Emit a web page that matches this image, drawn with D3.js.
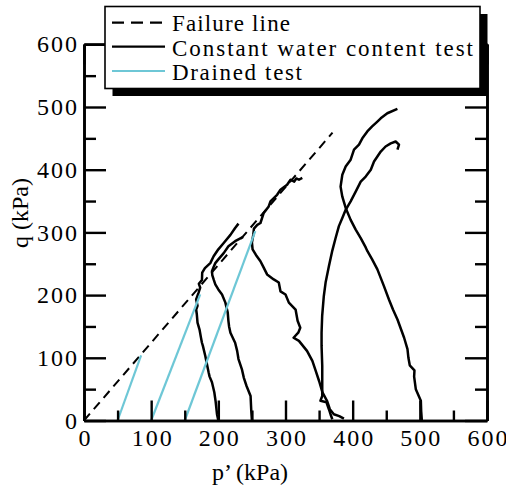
<!DOCTYPE html>
<html>
<head>
<meta charset="utf-8">
<script src="https://cdn.jsdelivr.net/npm/d3@7"></script>
<style>
  html, body { margin: 0; padding: 0; background: #fff; }
  svg { display: block; }
  text { font-family: "Liberation Serif"; fill: #000; }
</style>
</head>
<body>
<svg id="chart" width="506" height="491"></svg>
<script>
// ---------- data ----------
const majorTicks = [0, 100, 200, 300, 400, 500, 600];
const minorTicks = [50, 150, 250, 350, 450, 550];
const xTitle = "p\u2019 (kPa)";
const yTitle = "q (kPa)";
const legendLabels = ["Failure line", "Constant water content test", "Drained test"];

// failure line (p', q)
const failureLine = [[0, 0], [370, 459]];

// drained tests (p', q)
const drained1 = [[50, 0], [85, 104]];
const drained2 = [[100, 0], [173, 201]];
const drained3 = [[150, 0], [255, 302]];

// constant water content tests (p', q)
const cwc200 = [[200,0],[198,10],[196,30],[194,45],[190.5,61],[187,70],[185.5,77],[183,90],[180.6,103],[177,119],[175.6,124],[174,133],[172,145],[169,156],[168,169],[167,177],[169,183],[167,193],[170.6,204],[173,212],[171,218],[175.6,224],[176,236],[180,243],[188,251],[193,262],[200,273],[208,283],[218,296],[225,307],[230,314]];
const cwc250 = [[250,0],[249,16],[248,39],[242,55],[238,68],[235,82],[230,98],[228,111],[225,124],[218,140],[216,150],[215,159],[214,172],[210.5,188],[205.5,201],[200,209],[195.5,217],[193,225],[191,232],[190.5,238],[193,245],[195.5,251],[200,257],[208,267],[215,278],[225,286],[237,293]];
const cwc385 = [[387,3],[380,7],[372,10],[366,18],[362,31],[355,45],[350,63],[345,79],[340,95],[332,111],[320,127],[312,132],[319,140],[322,148],[318,159],[315,177],[305,188],[300,201],[292.5,206],[290,220],[282.5,225],[272.6,233],[267,245],[262.7,254],[256,264],[251,273],[250,284],[252,296],[253,306],[258,312],[262.7,315],[267.6,331],[275,341.5],[277.6,349.5],[287.5,360],[292.5,368],[302.4,376],[307.5,384],[313,381],[316,386],[320,384],[325,387]];
const cwc370 = [[369.7,2],[367,10],[364.6,18],[361,29],[352,31.5],[354.7,39],[354.7,61],[354.7,87],[353.7,119],[353.7,140],[354.6,167],[357,198],[359.7,220],[364.6,246],[369.7,271],[374.6,291],[379.5,310],[384.6,323],[389.6,336],[397,349.5],[404.5,365],[412,381],[419.4,389],[427,400],[431.8,413],[436.8,421],[441.8,429],[449,437],[456.7,442],[464,445],[469,440],[466.7,432]];
const cwc500 = [[503,0],[502,15],[501.5,31.5],[494,50],[491.5,70],[492,80],[485,88],[483,100],[481.6,114],[476.6,132],[466.7,161],[460,177],[454,193],[446.7,214],[436.8,241],[429,257],[422,270],[419.4,276],[412,291],[404.5,304.5],[397,320],[389.6,339],[384.6,357],[382,373],[384.6,392],[389.6,405],[397,416],[402,432],[409.4,440],[414.4,450],[421.8,461],[429,469],[436,476],[441.8,482],[451.6,490],[466.6,497]];

const cwcTests = [cwc200, cwc250, cwc385, cwc370, cwc500];
const drainedTests = [drained1, drained2, drained3];

// ---------- drawing ----------
const cyan = "#6ec7d6";
const FONT = '"Liberation Serif"';
const svg = d3.select("#chart");
const x = d3.scaleLinear().domain([0, 600]).range([84, 487]);
const y = d3.scaleLinear().domain([0, 600]).range([420.5, 44.3]);
const line = d3.line().x(d => x(d[0])).y(d => y(d[1]));

// plot lines
svg.append("path").datum(failureLine).attr("d", line)
  .attr("fill", "none").attr("stroke", "#000").attr("stroke-width", 2)
  .attr("stroke-dasharray", "9,6");

svg.append("g").selectAll("path").data(cwcTests).join("path")
  .attr("d", line).attr("fill", "none").attr("stroke", "#000")
  .attr("stroke-width", 2.5).attr("stroke-linejoin", "round");

svg.append("g").selectAll("path").data(drainedTests).join("path")
  .attr("d", line).attr("fill", "none").attr("stroke", cyan)
  .attr("stroke-width", 2.2);

// axes
function styleAxis(g, labels) {
  g.attr("font-family", null);
  g.select(".domain").attr("stroke", "#000").attr("stroke-width", 2.6);
  g.selectAll(".tick line").attr("stroke", "#000").attr("stroke-width", 2.4);
  g.selectAll(".tick text").style("font-family", FONT).style("font-size", "24px");
  if (labels) {
    g.selectAll(".tick text").each(function(d) {
      if (String(d).length === 3) d3.select(this).attr("textLength", 40).attr("lengthAdjust", "spacing");
    });
  }
}
const fmt = d3.format("d");

const gl = svg.append("g").attr("transform", "translate(84,0)")
  .call(d3.axisLeft(y).tickValues(majorTicks).tickSize(-22).tickSizeOuter(0).tickPadding(7).tickFormat(fmt));
styleAxis(gl, true);
const glm = svg.append("g").attr("transform", "translate(84,0)")
  .call(d3.axisLeft(y).tickValues(minorTicks).tickSize(-12).tickSizeOuter(0).tickFormat(""));
styleAxis(glm, false);

const gb = svg.append("g").attr("transform", "translate(0,420.5)")
  .call(d3.axisBottom(x).tickValues(majorTicks).tickSize(-20).tickSizeOuter(0).tickPadding(8).tickFormat(fmt));
styleAxis(gb, true);
const gbm = svg.append("g").attr("transform", "translate(0,420.5)")
  .call(d3.axisBottom(x).tickValues(minorTicks).tickSize(-10).tickSizeOuter(0).tickFormat(""));
styleAxis(gbm, false);

const gr = svg.append("g").attr("transform", "translate(487,0)")
  .call(d3.axisRight(y).tickValues(majorTicks).tickSize(-22).tickSizeOuter(0).tickFormat(""));
styleAxis(gr, false);
const grm = svg.append("g").attr("transform", "translate(487,0)")
  .call(d3.axisRight(y).tickValues(minorTicks).tickSize(-12).tickSizeOuter(0).tickFormat(""));
styleAxis(grm, false);

const gt = svg.append("g").attr("transform", "translate(0,44.3)")
  .call(d3.axisTop(x).tickValues(majorTicks).tickSize(-20).tickSizeOuter(0).tickFormat(""));
styleAxis(gt, false);
const gtm = svg.append("g").attr("transform", "translate(0,44.3)")
  .call(d3.axisTop(x).tickValues(minorTicks).tickSize(-10).tickSizeOuter(0).tickFormat(""));
styleAxis(gtm, false);

// axis titles
svg.append("text").attr("x", 250).attr("y", 480).attr("text-anchor", "middle")
  .style("font-family", FONT).style("font-size", "24px").text(xTitle);
svg.append("text").attr("transform", "translate(28,213) rotate(-90)").attr("text-anchor", "middle")
  .style("font-family", FONT).style("font-size", "24px").text(yTitle);

// legend
const lg = svg.append("g");
lg.append("rect").attr("x", 112.5).attr("y", 14).attr("width", 375).attr("height", 82).attr("fill", "#000");
lg.append("rect").attr("x", 105).attr("y", 6.5).attr("width", 375).attr("height", 82)
  .attr("fill", "#fff").attr("stroke", "#000").attr("stroke-width", 1.6);
const legendY = [22.7, 46.7, 71];
const legendBase = [30.7, 56, 80];
const legendLens = [118, 301, 130];
const legendStyles = [
  {stroke: "#000", dash: "12,7"},
  {stroke: "#000", dash: null},
  {stroke: cyan, dash: null}
];
legendLabels.forEach((lab, i) => {
  lg.append("line").attr("x1", 112).attr("x2", 165).attr("y1", legendY[i]).attr("y2", legendY[i])
    .attr("stroke", legendStyles[i].stroke).attr("stroke-width", 2.2)
    .attr("stroke-dasharray", legendStyles[i].dash);
  lg.append("text").attr("x", 172).attr("y", legendBase[i])
    .attr("textLength", legendLens[i]).attr("lengthAdjust", "spacing")
    .style("font-family", FONT).style("font-size", "23px").text(lab);
});
</script>
</body>
</html>
